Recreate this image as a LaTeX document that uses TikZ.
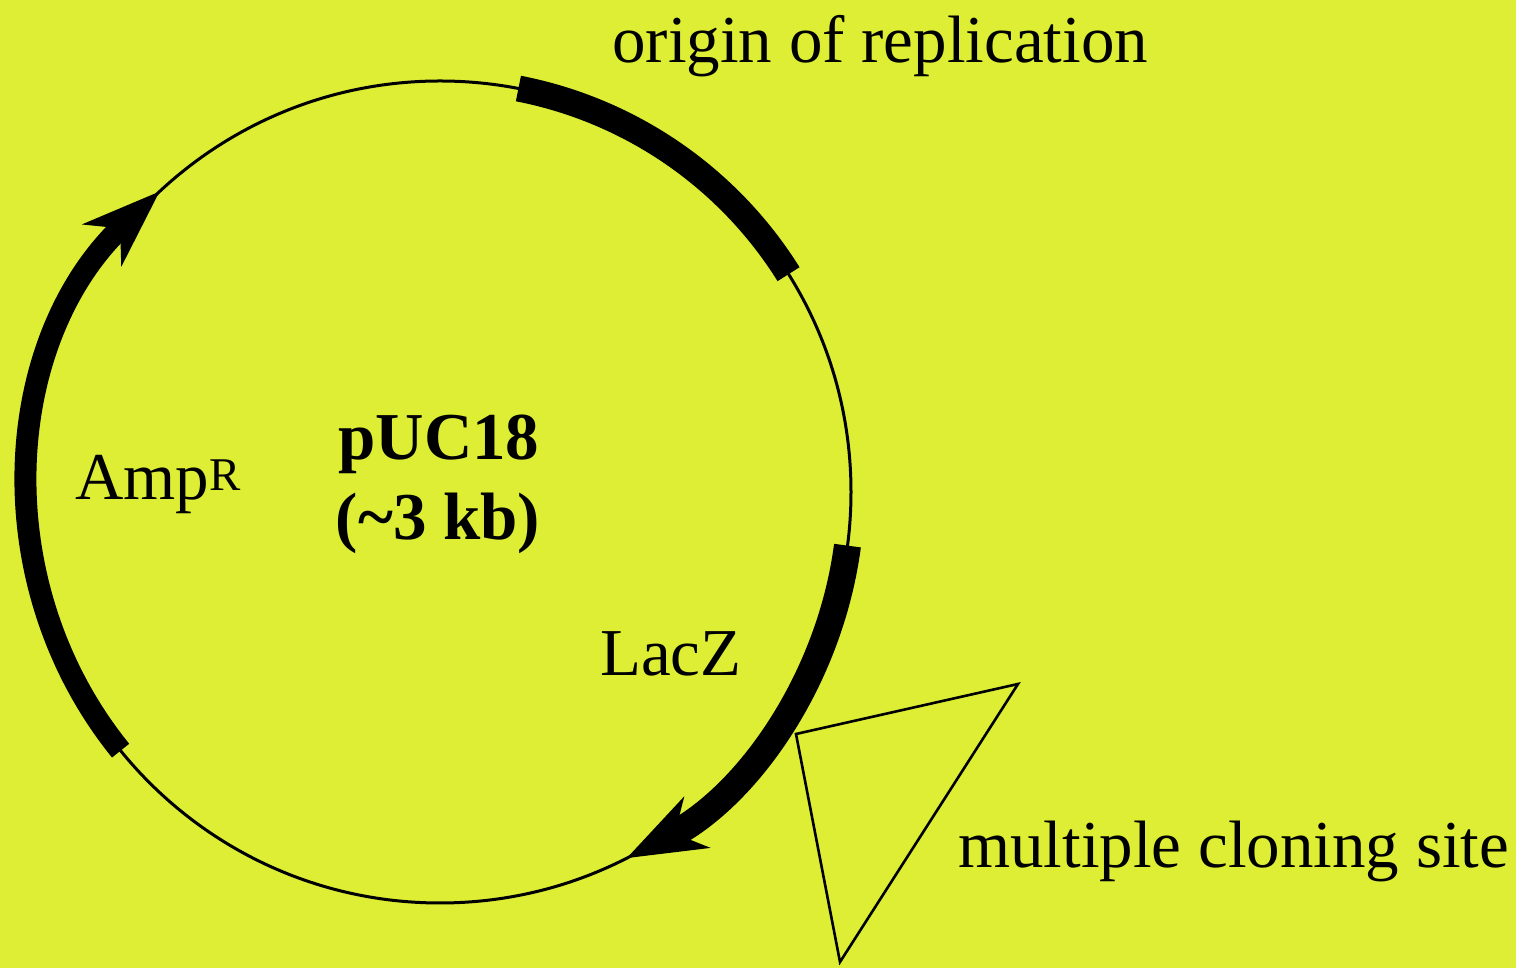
\documentclass[tikz,border=0pt]{standalone}
\usepackage{fontspec}
\setmainfont{Liberation Serif}
\usetikzlibrary{arrows.meta}
\definecolor{bgyellow}{RGB}{221,238,52}
\begin{document}
\begin{tikzpicture}[x=1pt,y=1pt,
  thin ring/.style={line width=3pt,black},
  band/.style={line width=26pt,black,line cap=butt},
  bigtip/.style={-{Stealth[length=78pt,width=56pt,inset=24pt]}},
  lbl/.style={inner sep=0pt,anchor=base west,font=\fontsize{67}{80}\selectfont},
  mcs/.style={line width=2.6pt,black,line join=miter}]
\fill[bgyellow] (0,0) rectangle (1516,968);
\useasboundingbox (0,0) rectangle (1516,968);
\coordinate (c) at (440,476);
% backbone
\draw[thin ring] (c) circle[radius=411];
% origin of replication
\draw[band] (c) ++(79:411) arc[start angle=79,end angle=32,radius=411];
% LacZ
\draw[band,line width=27pt,bigtip] (c) ++(-7.5:411) arc[start angle=-7.5,end angle=-63,radius=411];
% AmpR
\draw[band,line width=22pt,bigtip] (c) ++(219:411) arc[start angle=219,end angle=133,radius=411];
% multiple cloning site
\coordinate (m1) at (796,234);
\coordinate (m2) at (1018,284);
\coordinate (m3) at (840,6);
\draw[mcs] (m1) -- (m2) -- (m3) -- cycle;
% labels
\node[lbl] (ori) at (612,905) {origin of replication};
\node[lbl] (mcsl) at (958,100) {multiple cloning site};
\node[lbl] (lacz) at (600,292) {LacZ};
\node[lbl] (amp) at (75,468) {Amp\textsuperscript{R}};
\node[inner sep=0pt,anchor=base,font=\fontsize{67}{80}\selectfont\bfseries] (puc) at (439,508) {pUC18};
\node[inner sep=0pt,anchor=base,font=\fontsize{67}{80}\selectfont\bfseries] (size) at (438,428) {(\char"7E 3 kb)};
\end{tikzpicture}
\end{document}
